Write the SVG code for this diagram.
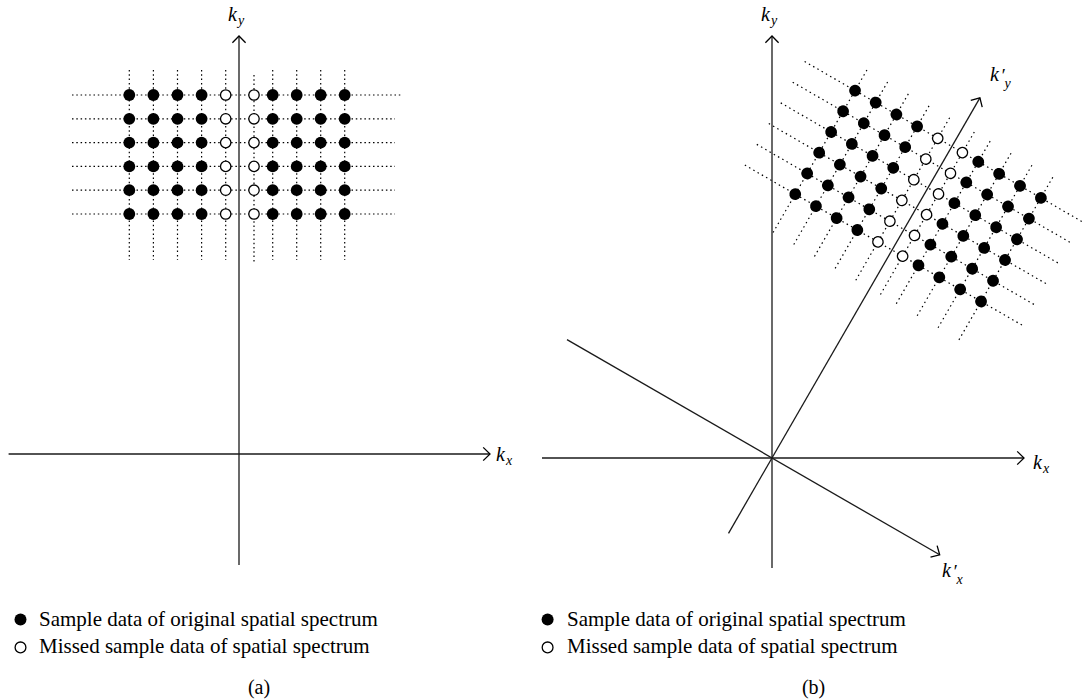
<svg xmlns="http://www.w3.org/2000/svg" xmlns:xlink="http://www.w3.org/1999/xlink" width="1083" height="699" viewBox="0 0 1083 699">
<defs>
<style>
.axis{stroke:#1a1a1a;stroke-width:1.3;fill:none}
.dotA{stroke:#000;stroke-width:1.2;stroke-dasharray:1.5 2.8;fill:none}
.dotB{stroke:#000;stroke-width:1.2;stroke-dasharray:1.5 3.4;fill:none}
.fill{fill:#000}
.open{fill:#fff;stroke:#000;stroke-width:1.3}
.lbl{font-family:"Liberation Serif",serif;font-style:italic;font-size:20px;fill:#000}
.sb{font-size:14px}
.pr{font-size:19px}
.txt{font-family:"Liberation Serif",serif;font-size:21px;fill:#000}
.cap{font-family:"Liberation Serif",serif;font-size:20px;fill:#000;text-anchor:middle}
</style>
<marker id="arr" markerUnits="userSpaceOnUse" markerWidth="20" markerHeight="20" viewBox="-10 -10 20 20" refX="0" refY="0" orient="auto">
<path d="M-6.8,-6.6 L0,0 L-6.8,6.6" fill="none" stroke="#000" stroke-width="1.3"/>
</marker>
<circle id="f" r="5.9" class="fill"/>
<circle id="o" r="5.2" class="open"/>
</defs>
<rect width="1083" height="699" fill="#fff"/>

<!-- Panel (a) -->
<g id="gridA">
<g id="gridA-rows" class="dotA">
<line x1="72" y1="95" x2="402" y2="95"/>
<line x1="72" y1="118.8" x2="395" y2="118.8"/>
<line x1="72" y1="142.6" x2="395" y2="142.6"/>
<line x1="72" y1="166.4" x2="395" y2="166.4"/>
<line x1="72" y1="190.2" x2="395" y2="190.2"/>
<line x1="72" y1="214" x2="395" y2="214"/>
</g>
<g id="gridA-cols" class="dotA">
<line x1="129.3" y1="70" x2="129.3" y2="260"/>
<line x1="153.4" y1="70" x2="153.4" y2="260"/>
<line x1="177.5" y1="70" x2="177.5" y2="260"/>
<line x1="201.6" y1="70" x2="201.6" y2="260"/>
<line x1="225.7" y1="70" x2="225.7" y2="260"/>
<line x1="254" y1="75" x2="254" y2="262"/>
<line x1="272.7" y1="70" x2="272.7" y2="260"/>
<line x1="296.7" y1="70" x2="296.7" y2="260"/>
<line x1="320.7" y1="70" x2="320.7" y2="260"/>
<line x1="344.7" y1="70" x2="344.7" y2="260"/>
</g>
</g>

<g id="axesA">
<line class="axis" x1="239" y1="565" x2="239" y2="36" marker-end="url(#arr)"/>
<line class="axis" x1="8.6" y1="454" x2="490" y2="454" marker-end="url(#arr)"/>
</g>

<g id="pointsA">
<use xlink:href="#f" x="129.3" y="95"/><use xlink:href="#f" x="153.4" y="95"/><use xlink:href="#f" x="177.5" y="95"/><use xlink:href="#f" x="201.6" y="95"/><use xlink:href="#o" x="225.7" y="95"/><use xlink:href="#o" x="254" y="95"/><use xlink:href="#f" x="272.7" y="95"/><use xlink:href="#f" x="296.7" y="95"/><use xlink:href="#f" x="320.7" y="95"/><use xlink:href="#f" x="344.7" y="95"/>
<use xlink:href="#f" x="129.3" y="118.8"/><use xlink:href="#f" x="153.4" y="118.8"/><use xlink:href="#f" x="177.5" y="118.8"/><use xlink:href="#f" x="201.6" y="118.8"/><use xlink:href="#o" x="225.7" y="118.8"/><use xlink:href="#o" x="254" y="118.8"/><use xlink:href="#f" x="272.7" y="118.8"/><use xlink:href="#f" x="296.7" y="118.8"/><use xlink:href="#f" x="320.7" y="118.8"/><use xlink:href="#f" x="344.7" y="118.8"/>
<use xlink:href="#f" x="129.3" y="142.6"/><use xlink:href="#f" x="153.4" y="142.6"/><use xlink:href="#f" x="177.5" y="142.6"/><use xlink:href="#f" x="201.6" y="142.6"/><use xlink:href="#o" x="225.7" y="142.6"/><use xlink:href="#o" x="254" y="142.6"/><use xlink:href="#f" x="272.7" y="142.6"/><use xlink:href="#f" x="296.7" y="142.6"/><use xlink:href="#f" x="320.7" y="142.6"/><use xlink:href="#f" x="344.7" y="142.6"/>
<use xlink:href="#f" x="129.3" y="166.4"/><use xlink:href="#f" x="153.4" y="166.4"/><use xlink:href="#f" x="177.5" y="166.4"/><use xlink:href="#f" x="201.6" y="166.4"/><use xlink:href="#o" x="225.7" y="166.4"/><use xlink:href="#o" x="254" y="166.4"/><use xlink:href="#f" x="272.7" y="166.4"/><use xlink:href="#f" x="296.7" y="166.4"/><use xlink:href="#f" x="320.7" y="166.4"/><use xlink:href="#f" x="344.7" y="166.4"/>
<use xlink:href="#f" x="129.3" y="190.2"/><use xlink:href="#f" x="153.4" y="190.2"/><use xlink:href="#f" x="177.5" y="190.2"/><use xlink:href="#f" x="201.6" y="190.2"/><use xlink:href="#o" x="225.7" y="190.2"/><use xlink:href="#o" x="254" y="190.2"/><use xlink:href="#f" x="272.7" y="190.2"/><use xlink:href="#f" x="296.7" y="190.2"/><use xlink:href="#f" x="320.7" y="190.2"/><use xlink:href="#f" x="344.7" y="190.2"/>
<use xlink:href="#f" x="129.3" y="214"/><use xlink:href="#f" x="153.4" y="214"/><use xlink:href="#f" x="177.5" y="214"/><use xlink:href="#f" x="201.6" y="214"/><use xlink:href="#o" x="225.7" y="214"/><use xlink:href="#o" x="254" y="214"/><use xlink:href="#f" x="272.7" y="214"/><use xlink:href="#f" x="296.7" y="214"/><use xlink:href="#f" x="320.7" y="214"/><use xlink:href="#f" x="344.7" y="214"/>
</g>

<g id="labelsA">
<text class="lbl" x="228" y="21">k<tspan class="sb" dx="1" dy="4">y</tspan></text>
<text class="lbl" x="496" y="460.5">k<tspan class="sb" dx="1" dy="4.5">x</tspan></text>
</g>

<g id="legendA">
<circle cx="20.5" cy="619.5" r="6" class="fill"/>
<text class="txt" x="39" y="626.4">Sample data of original spatial spectrum</text>
<circle cx="20.5" cy="647.4" r="5.4" class="open"/>
<text class="txt" x="39" y="653.2">Missed sample data of spatial spectrum</text>
<text class="cap" x="259" y="693.5">(a)</text>
</g>

<!-- Panel (b) -->
<g id="gridB" transform="translate(772,458) rotate(30)">
<g id="gridB-rows" class="dotB">
<line x1="-170" y1="-359.7" x2="152" y2="-359.7"/>
<line x1="-170" y1="-335.8" x2="152" y2="-335.8"/>
<line x1="-170" y1="-311.9" x2="152" y2="-311.9"/>
<line x1="-170" y1="-288" x2="152" y2="-288"/>
<line x1="-170" y1="-264" x2="152" y2="-264"/>
<line x1="-170" y1="-240.1" x2="152" y2="-240.1"/>
</g>
<g id="gridB-cols" class="dotB">
<line x1="-111.8" y1="-383.5" x2="-111.8" y2="-194.4"/>
<line x1="-87.9" y1="-383.5" x2="-87.9" y2="-194.4"/>
<line x1="-64" y1="-383.5" x2="-64" y2="-194.4"/>
<line x1="-40.1" y1="-383.5" x2="-40.1" y2="-194.4"/>
<line x1="-16.3" y1="-383.5" x2="-16.3" y2="-194.4"/>
<line x1="12.2" y1="-383.5" x2="12.2" y2="-194.4"/>
<line x1="30.5" y1="-383.5" x2="30.5" y2="-194.4"/>
<line x1="54.6" y1="-383.5" x2="54.6" y2="-194.4"/>
<line x1="78.7" y1="-383.5" x2="78.7" y2="-194.4"/>
<line x1="102.8" y1="-383.5" x2="102.8" y2="-194.4"/>
</g>
</g>

<g id="axesB">
<line class="axis" x1="772" y1="568" x2="772" y2="36" marker-end="url(#arr)"/>
<line class="axis" x1="542" y1="458" x2="1024" y2="458" marker-end="url(#arr)"/>
<line class="axis" x1="567" y1="339.6" x2="939.7" y2="554.8" marker-end="url(#arr)"/>
<line class="axis" x1="728.5" y1="533.3" x2="979.9" y2="97.9" marker-end="url(#arr)"/>
</g>

<g id="pointsB" transform="translate(772,458) rotate(30)">
<use xlink:href="#f" x="-111.8" y="-359.7"/><use xlink:href="#f" x="-87.9" y="-359.7"/><use xlink:href="#f" x="-64" y="-359.7"/><use xlink:href="#f" x="-40.1" y="-359.7"/><use xlink:href="#o" x="-16.3" y="-359.7"/><use xlink:href="#o" x="12.2" y="-359.7"/><use xlink:href="#f" x="30.5" y="-359.7"/><use xlink:href="#f" x="54.6" y="-359.7"/><use xlink:href="#f" x="78.7" y="-359.7"/><use xlink:href="#f" x="102.8" y="-359.7"/>
<use xlink:href="#f" x="-111.8" y="-335.8"/><use xlink:href="#f" x="-87.9" y="-335.8"/><use xlink:href="#f" x="-64" y="-335.8"/><use xlink:href="#f" x="-40.1" y="-335.8"/><use xlink:href="#o" x="-16.3" y="-335.8"/><use xlink:href="#o" x="12.2" y="-335.8"/><use xlink:href="#f" x="30.5" y="-335.8"/><use xlink:href="#f" x="54.6" y="-335.8"/><use xlink:href="#f" x="78.7" y="-335.8"/><use xlink:href="#f" x="102.8" y="-335.8"/>
<use xlink:href="#f" x="-111.8" y="-311.9"/><use xlink:href="#f" x="-87.9" y="-311.9"/><use xlink:href="#f" x="-64" y="-311.9"/><use xlink:href="#f" x="-40.1" y="-311.9"/><use xlink:href="#o" x="-16.3" y="-311.9"/><use xlink:href="#o" x="12.2" y="-311.9"/><use xlink:href="#f" x="30.5" y="-311.9"/><use xlink:href="#f" x="54.6" y="-311.9"/><use xlink:href="#f" x="78.7" y="-311.9"/><use xlink:href="#f" x="102.8" y="-311.9"/>
<use xlink:href="#f" x="-111.8" y="-288"/><use xlink:href="#f" x="-87.9" y="-288"/><use xlink:href="#f" x="-64" y="-288"/><use xlink:href="#f" x="-40.1" y="-288"/><use xlink:href="#o" x="-16.3" y="-288"/><use xlink:href="#o" x="12.2" y="-288"/><use xlink:href="#f" x="30.5" y="-288"/><use xlink:href="#f" x="54.6" y="-288"/><use xlink:href="#f" x="78.7" y="-288"/><use xlink:href="#f" x="102.8" y="-288"/>
<use xlink:href="#f" x="-111.8" y="-264"/><use xlink:href="#f" x="-87.9" y="-264"/><use xlink:href="#f" x="-64" y="-264"/><use xlink:href="#f" x="-40.1" y="-264"/><use xlink:href="#o" x="-16.3" y="-264"/><use xlink:href="#o" x="12.2" y="-264"/><use xlink:href="#f" x="30.5" y="-264"/><use xlink:href="#f" x="54.6" y="-264"/><use xlink:href="#f" x="78.7" y="-264"/><use xlink:href="#f" x="102.8" y="-264"/>
<use xlink:href="#f" x="-111.8" y="-240.1"/><use xlink:href="#f" x="-87.9" y="-240.1"/><use xlink:href="#f" x="-64" y="-240.1"/><use xlink:href="#f" x="-40.1" y="-240.1"/><use xlink:href="#o" x="-16.3" y="-240.1"/><use xlink:href="#o" x="12.2" y="-240.1"/><use xlink:href="#f" x="30.5" y="-240.1"/><use xlink:href="#f" x="54.6" y="-240.1"/><use xlink:href="#f" x="78.7" y="-240.1"/><use xlink:href="#f" x="102.8" y="-240.1"/>
</g>

<g id="labelsB">
<text class="lbl" x="761" y="21">k<tspan class="sb" dx="1" dy="4">y</tspan></text>
<text class="lbl" x="1033" y="468.5">k<tspan class="sb" dx="1" dy="4.5">x</tspan></text>
<text class="lbl" x="990" y="81">k<tspan class="pr" dx="1.5" dy="1">′</tspan><tspan class="sb" dx="0" dy="6">y</tspan></text>
<text class="lbl" x="942" y="577">k<tspan class="pr" dx="1.5" dy="1">′</tspan><tspan class="sb" dx="0" dy="6">x</tspan></text>
</g>

<g id="legendB">
<circle cx="547.6" cy="619.5" r="6" class="fill"/>
<text class="txt" x="567" y="626.4">Sample data of original spatial spectrum</text>
<circle cx="547.6" cy="647.4" r="5.4" class="open"/>
<text class="txt" x="567" y="653.2">Missed sample data of spatial spectrum</text>
<text class="cap" x="813.6" y="693.5">(b)</text>
</g>
</svg>
